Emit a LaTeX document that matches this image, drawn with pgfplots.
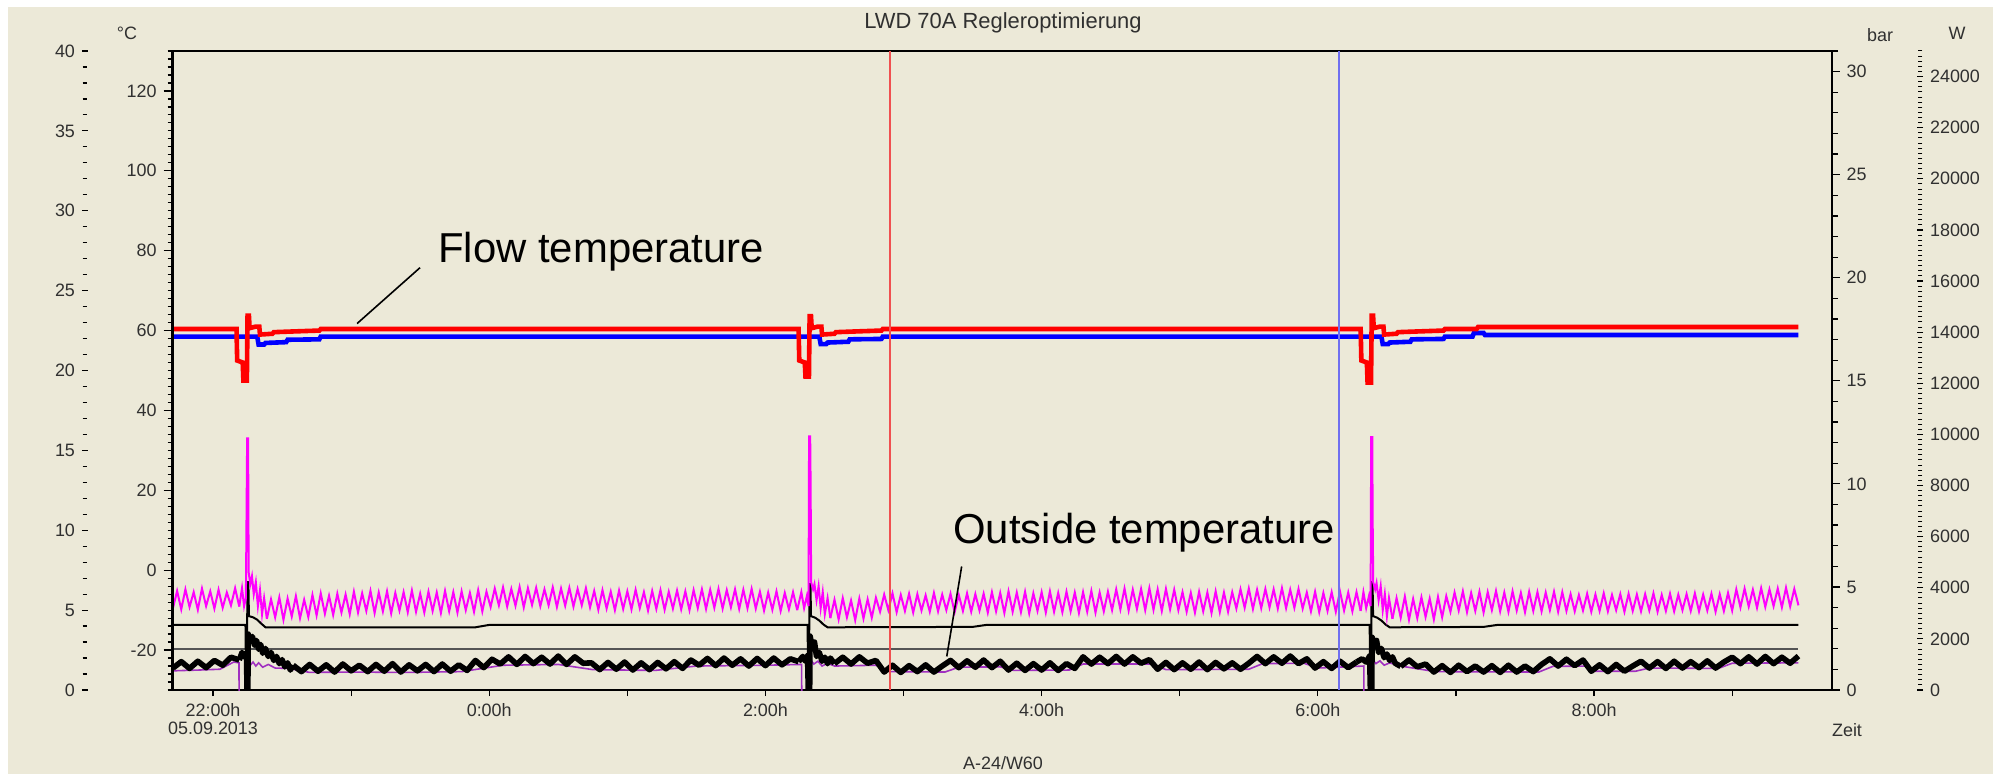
\documentclass[border=0pt]{standalone}
\usepackage{fontspec}
\setmainfont{Liberation Sans}
\usepackage{pgfplots}
\pgfplotsset{compat=1.18}
\definecolor{bg}{HTML}{ECE9D8}
\definecolor{txt}{HTML}{303030}
\definecolor{mag}{HTML}{FF00FF}
\definecolor{purp}{HTML}{A030C0}
\definecolor{cred}{HTML}{F05050}
\definecolor{cblue}{HTML}{7070F0}
\definecolor{fr}{HTML}{707070}
\definecolor{gline}{HTML}{555555}
\pgfplotsset{
  tfont/.style={font=\fontsize{9}{9.5}\selectfont, text=txt},
  subax/.style={scale only axis, height=319.5bp, hide x axis, xmin=0, xmax=1,
    /pgf/number format/assume math mode=true,
    y tick label style={tfont}, tick style={black, line width=0.6bp},
    y axis line style={-}},
  magl/.style={mag, line width=1bp},
  blkl/.style={black, line width=2.8bp, line join=round},
}
\begin{document}
\begin{tikzpicture}
\fill[white] (-86.35bp,-42bp) rectangle (910.15bp,345bp);
\fill[bg] (-82.35bp,-42bp) rectangle (910.15bp,341.5bp);
% main data axis
\begin{axis}[at={(0,0)}, anchor=south west, scale only axis, width=829.65bp, height=319.5bp,
  xmin=-0.292, xmax=11.723, ymin=-30, ymax=130,
  x axis line style={fr, line width=0.8bp},
  y axis line style={black, line width=1.2bp},
  ytick=\empty, xtick pos=left, tick align=outside,
  xtick={0,2,...,10},
  xticklabels={{22:00h\\05.09.2013},0:00h,2:00h,4:00h,6:00h,8:00h},
  x tick label style={tfont, align=center},
  minor xtick={1,3,...,11},
  major tick length=3bp, minor tick length=3bp,
  tick style={black, line width=0.6bp},
]
% gray reference line
\addplot[gline, line width=0.7bp] coordinates {(-0.292,-19.7)(11.48,-19.7)};
% purple
\addplot[purp, line width=0.8bp] coordinates {(-0.292,-25.2)(-0.1,-25.0)(0.05,-24.8)(0.15,-23.0)(0.188,-23.2)(0.189,-33)(0.246,-33)(0.248,-22)(0.27,-23.8)(0.29,-23)(0.31,-24)(0.33,-23.2)(0.36,-24.3)(0.40,-23.6)(0.45,-24.5)(0.55,-24.6)(0.7,-25.6)(1.0,-25.5)(1.4,-25.6)(1.8,-25.4)(2.1,-23.8)(2.5,-23.6)(2.75,-24.9)(3.2,-25.1)(3.5,-24)(4.0,-23.8)(4.262,-23.6)(4.263,-33)(4.318,-33)(4.32,-22)(4.35,-23.5)(4.38,-22.8)(4.41,-24)(4.45,-23.3)(4.5,-24)(4.8,-23.8)(4.9,-25.4)(5.3,-25.5)(5.4,-24.3)(5.7,-24.2)(5.8,-25.1)(6.2,-25)(6.3,-23.5)(6.8,-23.5)(6.9,-24.9)(7.5,-24.8)(7.6,-23.4)(7.9,-23.3)(8.0,-24.5)(8.333,-24.0)(8.334,-33)(8.386,-33)(8.388,-22)(8.42,-23.4)(8.45,-22.7)(8.48,-23.8)(8.52,-23.2)(8.6,-24)(8.85,-25.4)(9.6,-25.5)(9.7,-24.1)(9.95,-24)(10.0,-25.3)(10.3,-25.3)(10.4,-24.5)(10.9,-24.6)(11.0,-23.3)(11.48,-23.2)};
% thick black (outside temperature)
\addplot[blkl] table[header=false,row sep=\\,y index=0,x expr=\coordindex*0.06-0.29]{
-24.5\\-22.9\\-24.6\\-22.8\\-24.4\\-22.6\\-23.8\\-21.8\\-22.5\\
};
\addplot[blkl] coordinates {(0.19,-22.5)(0.21,-20.6)(0.23,-21.8)(0.243,-20.8)(0.246,-31)(0.252,-31)(0.255,-16)(0.27,-17.8)(0.285,-16.6)(0.30,-18.8)(0.315,-17.6)(0.33,-19.8)(0.345,-18.6)(0.36,-20.8)(0.38,-19.6)(0.40,-21.6)(0.42,-20.6)(0.44,-22.6)(0.46,-21.6)(0.48,-23.4)(0.50,-22.4)(0.52,-24.2)(0.54,-23.2)(0.56,-25.0)(0.58,-23.8)};
\addplot[blkl] table[header=false,row sep=\\,y index=0,x expr=\coordindex*0.06+0.58]{
-23.8\\-25.4\\-23.6\\-25.3\\-23.7\\-25.5\\-23.5\\-25.2\\-23.8\\-25.4\\-23.6\\-25.3\\-23.4\\-25.5\\-23.7\\-25.2\\-23.6\\-25.4\\-23.5\\-25.3\\-23.7\\-25.1\\
-22.6\\-24.4\\-22.3\\
-23.5\\-21.7\\-23.6\\-21.6\\-23.4\\-21.8\\-23.5\\-21.5\\-23.6\\-21.7\\-23.3\\
-23.2\\-24.9\\-23.1\\-24.8\\-23.0\\-25.0\\-23.2\\-24.9\\-23.1\\-24.7\\-22.9\\-24.6\\-22.5\\
-23.8\\-22.1\\-23.9\\-22.0\\-23.8\\-22.2\\-24.0\\-22.1\\-23.9\\-22.0\\-23.7\\-22.2\\-22.9\\
};
\addplot[blkl] coordinates {(4.24,-22.9)(4.27,-21.6)(4.29,-22.8)(4.305,-21.4)(4.311,-31)(4.32,-31)(4.323,-16.5)(4.34,-19.2)(4.355,-18)(4.37,-21.6)(4.39,-20.6)(4.41,-22.8)(4.43,-21.8)(4.45,-23.4)(4.47,-22.0)(4.50,-23.4)};
\addplot[blkl] table[header=false,row sep=\\,y index=0,x expr=\coordindex*0.06+4.50]{
-23.4\\-21.8\\-23.5\\-21.7\\-23.3\\-22.6\\
-25.5\\-23.8\\-25.6\\-23.9\\-25.4\\-23.7\\-25.5\\-24.0\\
-22.6\\-24.4\\-22.7\\-24.3\\-22.5\\-24.4\\-22.8\\
-25.0\\-23.3\\-25.1\\-23.4\\-25.0\\-23.2\\-25.1\\-23.4\\-24.6\\
-21.7\\-23.5\\-21.8\\-23.4\\-21.6\\-23.5\\-21.7\\-23.3\\-22.4\\
-24.8\\-23.1\\-24.9\\-23.2\\-24.8\\-23.0\\-24.9\\-23.1\\-24.7\\-23.2\\-24.8\\-23.3\\
-21.6\\-23.4\\-21.7\\-23.3\\-21.5\\-23.4\\-22.2\\
-24.5\\-22.9\\-24.6\\-22.8\\-24.4\\-23.0\\
};
\addplot[blkl] coordinates {(8.28,-23.0)(8.32,-22.2)(8.35,-23.0)(8.375,-21.5)(8.381,-31)(8.39,-31)(8.393,-16.8)(8.41,-18.8)(8.425,-17.6)(8.44,-20.6)(8.46,-19.6)(8.48,-21.9)(8.50,-21.0)(8.52,-22.6)(8.54,-21.7)(8.56,-23.3)(8.60,-24.1)};
\addplot[blkl] table[header=false,row sep=\\,y index=0,x expr=\coordindex*0.06+8.60]{
-24.1\\-22.5\\-24.2\\-23.5\\
-25.5\\-23.9\\-25.6\\-23.8\\-25.4\\-24.0\\-25.5\\-23.9\\-25.6\\-23.8\\-25.5\\-24.0\\-25.4\\-23.6\\
-22.2\\-24.0\\-22.3\\-23.9\\-22.5\\
-25.3\\-23.7\\-25.4\\-23.6\\-25.3\\-24.0\\
-22.8\\-24.5\\-22.9\\-24.6\\-22.8\\-24.5\\-22.9\\-24.4\\-22.7\\-24.5\\-23.0\\
-21.8\\-23.4\\-21.7\\-23.5\\-21.6\\-23.4\\-21.8\\-23.3\\-21.5\\
};
% thin black
\addplot[black, line width=1bp] coordinates {(-0.292,-13.7)(0.235,-13.7)(0.238,-23)(0.246,-23)(0.249,-3)(0.256,-3)(0.26,-11.5)(0.29,-11.8)(0.32,-12.4)(0.35,-13.4)(0.38,-14.3)(1.9,-14.3)(2.0,-13.7)(4.305,-13.7)(4.308,-23)(4.316,-23)(4.319,-3.5)(4.326,-3.5)(4.33,-11.5)(4.36,-11.9)(4.39,-12.6)(4.42,-13.6)(4.45,-14.3)(5.5,-14.2)(5.6,-13.7)(8.375,-13.7)(8.378,-23)(8.386,-23)(8.389,-3)(8.396,-3)(8.40,-11.5)(8.43,-11.9)(8.46,-12.6)(8.49,-13.6)(8.52,-14.3)(9.2,-14.2)(9.3,-13.7)(11.48,-13.7)};
% magenta
\addplot[magl] table[header=false,row sep=\\,y index=0,x expr=\coordindex*0.03-0.29]{
-9.5\\-5.2\\-9.8\\-4.8\\-9.2\\-5.5\\-9.9\\-4.6\\-9.0\\-5.3\\-9.6\\-4.9\\-9.4\\-5.6\\-8.8\\-4.5\\-9.1\\
};
\addplot[magl] coordinates {(0.19,-9.1)(0.21,-4.5)(0.225,-9)(0.238,-7)(0.247,33)(0.254,33)(0.258,-0.5)(0.27,-3.5)(0.282,-1.5)(0.295,-6)(0.31,-3)(0.325,-9)(0.34,-5)(0.355,-11)(0.37,-7)(0.39,-12.2)};
\addplot[magl] table[header=false,row sep=\\,y index=0,x expr=\coordindex*0.03+0.39]{
-12.2\\-7.3\\-11.8\\-6.8\\-12.4\\-7.1\\-11.6\\-6.5\\-12.0\\-7.4\\-11.7\\
-6.2\\-11.3\\-5.8\\-10.9\\-6.4\\-11.2\\-5.9\\-10.6\\-6.1\\-11.0\\
-5.4\\-10.6\\-5.8\\-10.2\\-5.2\\-10.7\\-5.6\\-10.3\\-5.3\\-10.8\\-5.7\\-10.1\\-5.5\\-10.5\\-5.1\\-10.4\\-5.9\\-10.6\\-5.4\\-10.2\\-5.6\\-10.7\\-5.2\\-10.3\\-5.5\\-10.6\\-5.3\\-10.0\\-5.7\\-10.4\\-5.0\\-10.3\\-5.4\\
-9.2\\-4.6\\-8.8\\-4.3\\-9.1\\-4.7\\-8.9\\-4.2\\-9.3\\-4.5\\-8.7\\-4.4\\-9.0\\-4.8\\-8.8\\-4.3\\-9.2\\-4.6\\-8.9\\-4.4\\-9.1\\-4.7\\-8.8\\-4.5\\-9.3\\
-5.2\\-9.9\\-5.0\\-9.6\\-5.4\\-10.0\\-5.1\\-9.7\\-5.3\\-9.8\\-4.9\\-9.5\\-5.5\\-10.1\\-5.2\\-9.7\\-5.0\\-9.9\\-5.4\\-9.6\\-5.1\\-9.8\\-5.3\\-10.0\\-5.0\\
-9.5\\-4.8\\-9.7\\-4.9\\-9.4\\-4.7\\-9.6\\-5.0\\-9.3\\-4.8\\-9.7\\-4.9\\-9.5\\-4.7\\-9.6\\
-5.4\\-10.1\\-5.6\\-9.9\\-5.3\\-10.2\\-5.7\\-9.8\\-5.5\\-10.0\\
};
\addplot[magl] coordinates {(4.23,-10.0)(4.26,-5.5)(4.28,-9.5)(4.30,-6.5)(4.312,-9)(4.316,33.5)(4.324,33.5)(4.327,22)(4.331,-3)(4.345,-4.8)(4.355,-3.5)(4.37,-7.5)(4.385,-4)(4.40,-9.5)(4.415,-5.5)(4.43,-11)(4.45,-7)(4.47,-12.0)};
\addplot[magl] table[header=false,row sep=\\,y index=0,x expr=\coordindex*0.03+4.47]{
-12.0\\-7.4\\-12.3\\-7.0\\-11.8\\-7.6\\-12.5\\-7.1\\-12.1\\-7.3\\-11.9\\-6.9\\
-10.4\\-6.1\\-10.0\\-5.8\\-10.5\\-6.2\\-10.2\\-5.9\\-10.6\\-6.0\\-10.1\\-6.3\\-10.4\\-5.7\\-10.3\\-6.1\\-10.0\\-5.9\\-10.5\\-6.2\\-10.2\\-5.8\\-10.4\\-6.0\\-10.1\\-5.9\\
-10.6\\-5.5\\-10.3\\-5.7\\-10.7\\-5.3\\-10.4\\-5.6\\-10.5\\-5.4\\-10.8\\-5.8\\-10.2\\-5.5\\-10.6\\-5.3\\-10.4\\-5.7\\-10.5\\-5.4\\-10.3\\-5.6\\-10.7\\-5.5\\-10.4\\-5.2\\-10.6\\-5.6\\-10.3\\-5.4\\
-10.0\\-4.8\\-9.8\\-4.6\\-10.1\\-4.9\\-9.7\\-4.7\\-10.0\\-4.5\\-9.9\\-4.8\\-10.2\\-4.7\\-9.8\\-4.9\\-10.0\\
-5.5\\-10.4\\-5.7\\-10.6\\-5.4\\-10.3\\-5.6\\-10.7\\-5.3\\-10.5\\-5.6\\-10.4\\-5.5\\
-9.6\\-4.8\\-9.4\\-4.6\\-9.7\\-4.9\\-9.5\\-4.7\\-9.3\\-4.8\\-9.6\\-4.5\\-9.5\\-4.9\\-9.4\\-4.7\\-9.6\\
-5.6\\-10.3\\-5.4\\-10.5\\-5.7\\-10.2\\-5.5\\-10.4\\-5.3\\-10.1\\-5.6\\-10.3\\-5.5\\-10.2\\
};
\addplot[magl] coordinates {(8.31,-10.2)(8.33,-5.5)(8.35,-9.5)(8.37,-6.5)(8.382,-9)(8.386,33.3)(8.394,33.3)(8.397,12.3)(8.401,-3)(8.415,-4.8)(8.425,-3.2)(8.44,-7.5)(8.455,-4)(8.47,-10)(8.485,-6)(8.50,-11.5)(8.515,-7)(8.54,-12.2)};
\addplot[magl] table[header=false,row sep=\\,y index=0,x expr=\coordindex*0.03+8.54]{
-12.2\\-7.0\\-11.9\\-6.6\\-12.4\\-7.2\\-12.0\\-6.8\\-11.7\\-7.1\\-12.3\\-6.7\\-11.8\\-6.5\\
-10.4\\-5.6\\-10.1\\-5.3\\-10.5\\-5.7\\-10.2\\-5.4\\-10.6\\-5.5\\-10.0\\-5.2\\-10.3\\-5.6\\-10.4\\-5.3\\-10.1\\-5.7\\-10.5\\-5.4\\-10.2\\-5.5\\-10.3\\-5.6\\-10.0\\-5.4\\-10.4\\-5.5\\-10.2\\
-6.0\\-10.3\\-6.2\\-10.1\\-5.9\\-10.4\\-6.1\\-10.2\\-5.8\\-10.3\\-6.2\\-10.0\\-6.0\\-10.4\\-5.9\\-10.2\\-6.1\\-10.3\\-6.0\\-10.1\\-5.8\\-10.4\\-6.2\\-10.2\\-5.9\\-10.3\\-6.1\\-10.0\\-6.0\\-10.2\\-5.8\\-10.3\\-6.1\\-10.1\\-5.9\\-10.4\\-6.0\\-10.2\\-5.7\\-10.1\\
-4.8\\-9.3\\-4.6\\-9.1\\-4.9\\-9.4\\-4.5\\-9.2\\-4.8\\-9.0\\-4.6\\-9.3\\-4.4\\-9.1\\-4.7\\-8.8\\
};
% blue (return) and red (flow)
\addplot[blue, line width=2.3bp] coordinates {(-0.292,58.5)(0.32,58.5)(0.33,56.5)(0.37,56.5)(0.38,56.9)(0.53,57.1)(0.54,57.7)(0.77,57.8)(0.78,58.5)(4.39,58.5)(4.40,56.6)(4.44,56.6)(4.45,57.0)(4.60,57.2)(4.61,57.8)(4.84,57.9)(4.85,58.5)(8.46,58.5)(8.47,56.6)(8.51,56.6)(8.52,57.0)(8.67,57.2)(8.68,57.8)(8.91,57.9)(8.92,58.5)(9.12,58.5)(9.13,59.4)(9.2,59.4)(9.21,58.9)(11.48,58.9)};
\addplot[red, line width=2.3bp] coordinates {(-0.292,60.4)(0.17,60.4)(0.175,52.5)(0.215,52)(0.22,47.5)(0.245,47.5)(0.25,63.7)(0.26,63.7)(0.265,60.6)(0.31,61)(0.335,61)(0.34,59)(0.43,59.2)(0.44,59.6)(0.6,59.8)(0.77,60.0)(0.78,60.4)(4.24,60.4)(4.245,52.5)(4.285,52)(4.29,48.5)(4.315,48.5)(4.32,63.6)(4.33,63.6)(4.335,60.6)(4.38,61)(4.405,61)(4.41,59)(4.50,59.2)(4.51,59.6)(4.67,59.8)(4.84,60.0)(4.85,60.4)(8.31,60.4)(8.315,52.5)(8.355,52)(8.36,47)(8.385,47)(8.39,63.7)(8.40,63.7)(8.405,60.6)(8.45,61)(8.475,61)(8.48,59)(8.57,59.2)(8.58,59.6)(8.74,59.8)(8.91,60.0)(8.92,60.4)(9.15,60.4)(9.16,60.9)(11.48,60.9)};
% cursor lines
\addplot[cred, line width=1bp] coordinates {(4.90,-30)(4.90,130)};
\addplot[cblue, line width=1bp] coordinates {(8.155,-30)(8.155,130)};
% annotations
\draw[black, line width=0.8bp] (axis cs:1.499,75.75) -- (axis cs:1.043,61.75);
\draw[black, line width=0.8bp] (axis cs:5.421,0.93) -- (axis cs:5.313,-21.6);
\node[anchor=base west, inner sep=0pt, font=\fontsize{21}{25}\selectfont] at (axis cs:1.629,77) {Flow temperature};
\node[anchor=base west, inner sep=0pt, font=\fontsize{21}{25}\selectfont] at (axis cs:5.358,6.75) {Outside temperature};
\end{axis}
% inner left degC axis
\begin{axis}[subax, at={(0,0)}, anchor=south west, width=829.65bp,
  ymin=-30, ymax=130, axis y line*=left, y axis line style={black, line width=1.2bp},
  ytick={-20,0,...,120}, minor ytick={-30,-28,...,130},
  tick align=outside, major tick length=4.5bp, minor tick length=2.5bp]
\addplot[draw=none] coordinates {(0,0)};
\end{axis}
% outer left 0..40 axis
\begin{axis}[subax, at={(-43.85bp,0)}, anchor=south west, width=10bp,
  ymin=0, ymax=40, axis y line*=left, y axis line style={draw=none},
  ytick={0,5,...,40}, minor ytick={0,1,...,40},
  tick align=center, major tick length=3bp, minor tick length=2.4bp]
\addplot[draw=none] coordinates {(0,0)};
\end{axis}
% bar axis
\begin{axis}[subax, at={(0,0)}, anchor=south west, width=829.65bp,
  ymin=0, ymax=31, axis y line*=right, y axis line style={black, line width=1.2bp},
  ytick={0,5,...,30}, minor ytick={0,1,...,31},
  tick align=outside, major tick length=3.8bp, minor tick length=3bp]
\addplot[draw=none] coordinates {(0,0)};
\end{axis}
% W axis
\begin{axis}[subax, at={(873.65bp,0)}, anchor=south east, width=10bp,
  ymin=0, ymax=25000, axis y line*=right, y axis line style={draw=none},
  ytick={0,2000,...,24000}, minor ytick={0,200,...,25000},
  scaled y ticks=false, y tick label style={/pgf/number format/1000 sep={}},
  tick align=center, major tick length=3bp, minor tick length=2.4bp,
  minor tick style={black, line width=0.5bp}]
\addplot[draw=none] coordinates {(0,0)};
\end{axis}
% texts outside
\node[inner sep=0pt, font=\fontsize{11}{13}\selectfont, text=txt] at (415.15bp,333.5bp) {LWD 70A Regleroptimierung};
\node[inner sep=0pt, font=\fontsize{9}{10}\selectfont, text=txt] at (-22.85bp,328.5bp) {°C};
\node[inner sep=0pt, font=\fontsize{9}{10}\selectfont, text=txt] at (853.65bp,327.5bp) {bar};
\node[inner sep=0pt, font=\fontsize{9}{10}\selectfont, text=txt] at (892.15bp,328.5bp) {W};
\node[inner sep=0pt, font=\fontsize{9}{10}\selectfont, text=txt] at (837.15bp,-20bp) {Zeit};
\node[inner sep=0pt, font=\fontsize{9}{10}\selectfont, text=txt] at (415.15bp,-36.5bp) {A-24/W60};
\end{tikzpicture}
\end{document}
